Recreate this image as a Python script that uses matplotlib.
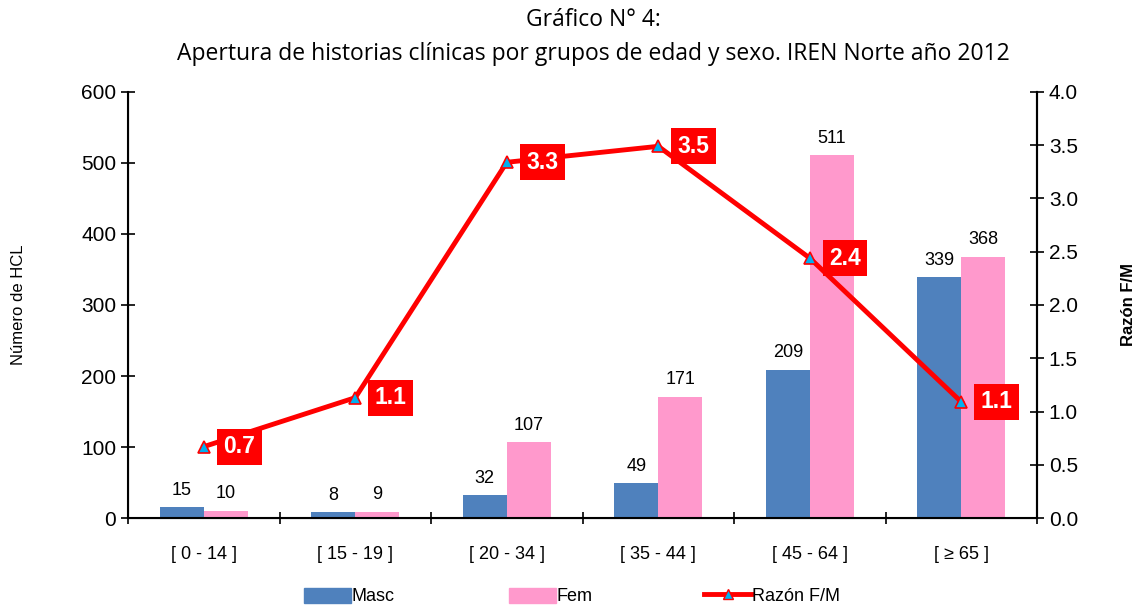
import numpy as np
import matplotlib.pyplot as plt
from matplotlib.lines import Line2D
from matplotlib.patches import Patch

plt.rcParams['font.family'] = ['Liberation Sans', 'DejaVu Sans']

grupos = ['[ 0 - 14 ]', '[ 15 - 19 ]', '[ 20 - 34 ]', '[ 35 - 44 ]', '[ 45 - 64 ]', '[ ≥ 65 ]']
masc = [15, 8, 32, 49, 209, 339]
fem = [10, 9, 107, 171, 511, 368]
razon = [0.67, 1.13, 3.34, 3.49, 2.44, 1.09]

c_masc = '#4F81BD'
c_fem = '#FF99CC'

fig = plt.figure(figsize=(11.41, 6.1), dpi=100)
ax = fig.add_axes([0.1122, 0.1508, 0.7967, 0.6984])
x = np.arange(len(grupos))
w = 0.29

ax.bar(x - w / 2, masc, w, color=c_masc)
ax.bar(x + w / 2, fem, w, color=c_fem)
for i in range(len(grupos)):
    ax.text(x[i] - w / 2, masc[i] + 12, str(masc[i]), ha='center', va='bottom', fontsize=13)
    ax.text(x[i] + w / 2, fem[i] + 12, str(fem[i]), ha='center', va='bottom', fontsize=13)

ax.set_xlim(-0.5, len(grupos) - 0.5)
ax.set_ylim(0, 600)
ax.set_yticks(range(0, 601, 100))
ax.set_xticks(x)
ax.set_xticklabels(grupos, fontsize=13)
ax.set_xticks(np.arange(-0.5, len(grupos), 1), minor=True)
ax.tick_params(axis='x', which='major', length=0, pad=20)
ax.tick_params(axis='x', which='minor', direction='inout', length=8, width=1.2)
ax.tick_params(axis='y', direction='inout', length=10, width=1.2, labelsize=15)
ax.spines['top'].set_visible(False)
for s in ['left', 'bottom', 'right']:
    ax.spines[s].set_linewidth(1.5)
ax.set_ylabel('Número de HCL', fontsize=12, labelpad=40)

ax2 = ax.twinx()
ax2.plot(x, razon, color='#FF0000', lw=3.5, marker='^', ms=8,
         mfc='#00B0F0', mec='#FF0000', mew=1.2, zorder=5)
ax2.set_ylim(0, 4)
ax2.set_yticks(np.arange(0, 4.01, 0.5))
ax2.set_yticklabels([f'{v:.1f}' for v in np.arange(0, 4.01, 0.5)])
ax2.tick_params(axis='y', direction='inout', length=10, width=1.2, labelsize=15)
ax2.spines['top'].set_visible(False)
ax2.spines['right'].set_linewidth(1.5)
ax2.set_ylabel('Razón F/M', fontsize=12, fontweight='bold', labelpad=31)
for i in range(len(grupos)):
    ax2.annotate(f'{razon[i]:.1f}', (x[i], razon[i]), xytext=(14, 0), textcoords='offset points',
                 ha='left', va='center', fontsize=16.5, fontweight='bold', color='white',
                 bbox=dict(boxstyle='square,pad=0.28', fc='#FF0000', ec='none'), zorder=6)

fig.suptitle('Gráfico N° 4:\nApertura de historias clínicas por grupos de edad y sexo. IREN Norte año 2012',
             fontsize=16.5, x=0.52, y=0.987, family=['Open Sans', 'DejaVu Sans'], linespacing=1.55)

# legend entries placed like the original (evenly spaced columns)
handles = [Patch(color=c_masc), Patch(color=c_fem),
           Line2D([0], [0], color='#FF0000', lw=3.5, marker='^', ms=7, mfc='#00B0F0', mec='#FF0000')]
labels = ['Masc', 'Fem', 'Razón F/M']
xpos = [0.255, 0.435, 0.606]
for h, lab, xp in zip(handles, labels, xpos):
    fig.legend([h], [lab], loc='lower left', bbox_to_anchor=(xp, -0.013), frameon=False,
               fontsize=13, handlelength=2.6, handleheight=0.9, handletextpad=0.05,
               borderaxespad=0.3)

fig.savefig('out.png', dpi=100)
